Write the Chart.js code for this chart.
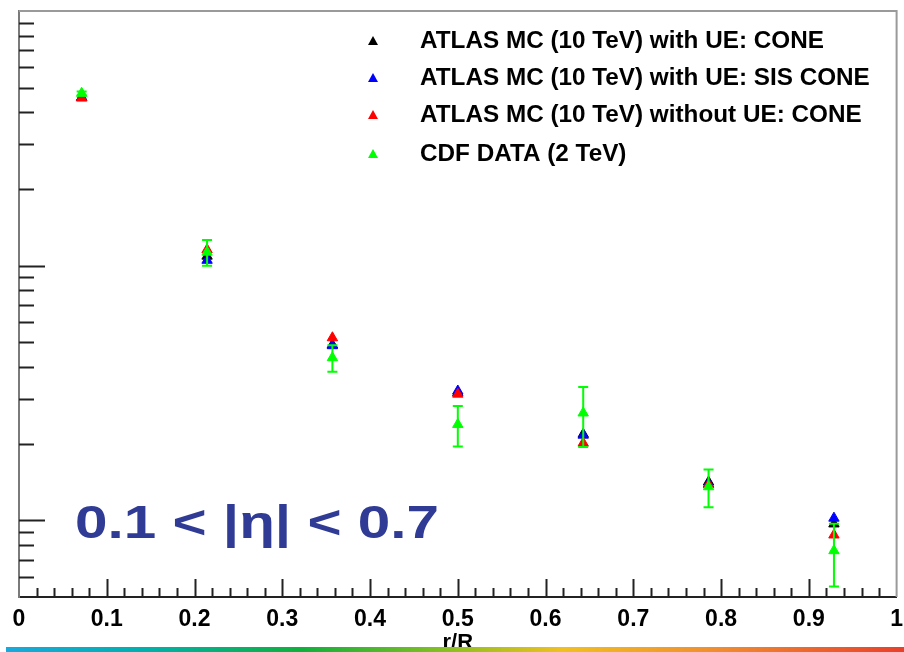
<!DOCTYPE html>
<html lang="en">
<head>
  <meta charset="UTF-8">
  <title>Jet shape vs r/R</title>
  <script src="https://cdn.jsdelivr.net/npm/chart.js"></script>
  <style>
    body { margin: 0; padding: 0; background: #ffffff; }
    #wrap { width: 904px; height: 652px; }
  </style>
</head>
<body>
  <div id="wrap"><canvas id="shape" width="904" height="652"></canvas></div>

  <script>
    // r/R bin centres (7 bins of width 1/7)
    const rBins = [0.0714, 0.2143, 0.3571, 0.5, 0.6429, 0.7857, 0.9286];

    // Jet shape per bin for each sample
    const coneWithUE    = [45.8, 10.9, 4.89, 3.17, 2.18, 1.415, 0.968];
    const sisConeWithUE = [45.8, 10.5, 4.85, 3.22, 2.16, 1.39, 1.02];
    const coneNoUE      = [45.5, 11.55, 5.21, 3.13, 2.01, 1.38, 0.876];
    const cdfData       = [47.5, 11.3, 4.35, 2.38, 2.64, 1.355, 0.76];
    const cdfErr        = [0.8, 1.3, 0.52, 0.43, 0.7, 0.23, 0.21];

    const seriesLabels = [
      'ATLAS MC (10 TeV) with UE: CONE',
      'ATLAS MC (10 TeV) with UE: SIS CONE',
      'ATLAS MC (10 TeV) without UE: CONE',
      'CDF DATA (2 TeV)'
    ];
    const seriesColors = ['#000000', '#0000ff', '#ff0000', '#00ff00'];
    const etaLabel = '0.1 < |\u03b7| < 0.7';

    const FONT = '"Liberation Sans", Arial, sans-serif';

    function points(vals) {
      return vals.map((v, i) => ({ x: rBins[i], y: v }));
    }

    function series(idx, vals, order) {
      return {
        label: seriesLabels[idx],
        data: points(vals),
        pointStyle: 'triangle',
        pointRadius: 6,
        pointHoverRadius: 6,
        borderWidth: 1,
        backgroundColor: seriesColors[idx],
        borderColor: seriesColors[idx],
        showLine: false,
        order: order
      };
    }

    // frame and inward ticks, ROOT style
    const framePlugin = {
      id: 'frame',
      beforeDatasetsDraw(chart) {
        const { ctx, chartArea: a, scales: { x, y } } = chart;
        ctx.save();
        ctx.strokeStyle = '#9a9a9a';
        ctx.lineWidth = 2;
        ctx.beginPath();
        ctx.moveTo(a.left, a.top);
        ctx.lineTo(a.right, a.top);
        ctx.lineTo(a.right, a.bottom);
        ctx.stroke();

        ctx.strokeStyle = '#222';
        ctx.lineWidth = 2;
        ctx.beginPath();
        // x ticks every 0.02, long ones every 0.1
        for (let k = 1; k < 50; k++) {
          const px = Math.round(x.getPixelForValue(k / 50)) + 0.5;
          const len = k % 5 === 0 ? 18 : 9;
          ctx.moveTo(px, a.bottom);
          ctx.lineTo(px, a.bottom - len);
        }
        // y log ticks
        for (let e = -1; e <= 2; e++) {
          for (let m = 1; m <= 9; m++) {
            const v = m * Math.pow(10, e);
            if (v <= y.min || v >= y.max) continue;
            const py = Math.round(y.getPixelForValue(v)) + 0.5;
            const len = m === 1 ? 26 : 15;
            ctx.moveTo(a.left, py);
            ctx.lineTo(a.left + len, py);
          }
        }
        ctx.stroke();
        ctx.restore();
      },
      afterDatasetsDraw(chart) {
        // CDF error bars
        const { ctx, scales: { x, y } } = chart;
        ctx.save();
        ctx.strokeStyle = seriesColors[3];
        ctx.lineWidth = 2;
        ctx.beginPath();
        cdfData.forEach((v, i) => {
          const px = x.getPixelForValue(rBins[i]);
          const top = y.getPixelForValue(v + cdfErr[i]);
          const bot = y.getPixelForValue(v - cdfErr[i]);
          ctx.moveTo(px, top);
          ctx.lineTo(px, bot);
          ctx.moveTo(px - 5, top);
          ctx.lineTo(px + 5, top);
          ctx.moveTo(px - 5, bot);
          ctx.lineTo(px + 5, bot);
        });
        ctx.stroke();
        ctx.restore();
      },
      afterDraw(chart) {
        const { ctx } = chart;
        ctx.save();

        // legend
        const rows = [42, 79, 116, 155];
        ctx.font = 'bold 23px ' + FONT;
        ctx.textBaseline = 'middle';
        ctx.textAlign = 'left';
        seriesLabels.forEach((lab, i) => {
          const mx = 373, my = rows[i];
          ctx.fillStyle = seriesColors[i];
          ctx.beginPath();
          ctx.moveTo(mx, my - 6);
          ctx.lineTo(mx + 5, my + 3);
          ctx.lineTo(mx - 5, my + 3);
          ctx.closePath();
          ctx.fill();
          ctx.fillStyle = '#000';
          ctx.save();
          ctx.translate(420, my);
          ctx.scale(1.056, 1);
          ctx.fillText(lab, 0, 0);
          ctx.restore();
        });

        // pseudorapidity range
        ctx.fillStyle = '#2f3b95';
        ctx.font = 'bold 46px ' + FONT;
        ctx.textBaseline = 'alphabetic';
        ctx.translate(75, 538);
        ctx.scale(1.27, 1);
        ctx.fillText(etaLabel, 0, 0);
        ctx.setTransform(1, 0, 0, 1, 0, 0);

        // colour band along the bottom edge
        const g = ctx.createLinearGradient(6, 0, 904, 0);
        g.addColorStop(0, '#19a9dc');
        g.addColorStop(0.15, '#00b0b0');
        g.addColorStop(0.33, '#10b03c');
        g.addColorStop(0.5, '#90c020');
        g.addColorStop(0.62, '#f0c020');
        g.addColorStop(0.8, '#f08a30');
        g.addColorStop(1, '#e8402a');
        ctx.fillStyle = g;
        ctx.fillRect(6, 647, 898, 5);
        ctx.restore();
      }
    };

    new Chart(document.getElementById('shape').getContext('2d'), {
      type: 'scatter',
      data: {
        datasets: [
          series(0, coneWithUE, 3),
          series(1, sisConeWithUE, 2),
          series(2, coneNoUE, 1),
          series(3, cdfData, 0)
        ]
      },
      options: {
        responsive: false,
        animation: false,
        layout: { padding: { top: 11, right: 0, bottom: 0, left: 0 } },
        plugins: {
          legend: { display: false },
          tooltip: { enabled: false }
        },
        scales: {
          x: {
            type: 'linear',
            min: 0,
            max: 1,
            grid: { display: false },
            border: { display: true, color: '#222', width: 2 },
            ticks: {
              stepSize: 0.1,
              autoSkip: false,
              maxRotation: 0,
              padding: 1,
              color: '#000',
              font: { family: FONT, size: 23, weight: 'bold' },
              callback: v => String(Number(v.toFixed(1)))
            },
            title: {
              display: true,
              text: 'r/R',
              color: '#000',
              padding: { top: 0, bottom: -4 },
              font: { family: FONT, size: 22, weight: 'bold' }
            },
            afterFit: s => { s.height = 55; }
          },
          y: {
            type: 'logarithmic',
            min: 0.5,
            max: 100,
            grid: { display: false },
            border: { display: true, color: '#7a7a7a', width: 2 },
            ticks: { display: false },
            afterFit: s => { s.width = 19; }
          }
        }
      },
      plugins: [framePlugin]
    });
  </script>
</body>
</html>
